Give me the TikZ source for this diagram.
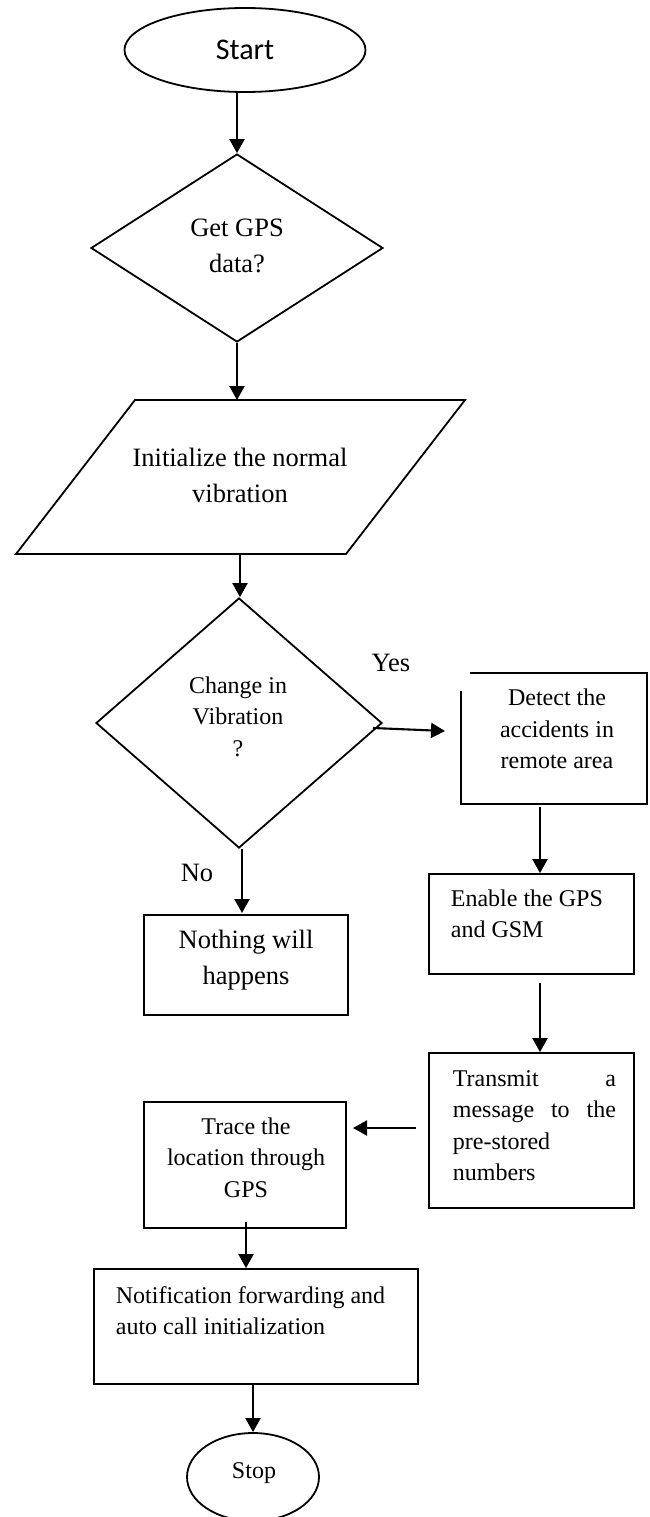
\documentclass[tikz,border=0pt]{standalone}
\usepackage{fontspec}
\setmainfont{Liberation Serif}
\newfontfamily\startfont{Carlito}
\usetikzlibrary{shapes.geometric,arrows.meta}
\begin{document}
\begin{tikzpicture}[x=1pt,y=-1pt,
  line width=1.8pt,
  arr/.style={line width=2.1pt,-{Triangle[length=14pt,width=15pt]}},
  boxshape/.style={draw,rectangle,inner sep=0pt},
  dia/.style={draw,diamond,inner sep=0pt},
  oval/.style={draw,ellipse,inner sep=0pt},
  txt/.style={inner sep=0pt,font=\fontsize{24}{31.5}\selectfont,align=center},
  bigtxt/.style={inner sep=0pt,font=\fontsize{26.5}{36}\selectfont,align=center},
]
\useasboundingbox (0,0) rectangle (649,1517);

% shapes
\node[oval,minimum width=241pt,minimum height=84pt] (start) at (245,50) {};
\node[dia,minimum width=292pt,minimum height=188pt] (gps) at (237,248) {};
\draw (135,400) -- (465,400) -- (346,554) -- (16,554) -- cycle;
\coordinate (initT) at (237,400);
\coordinate (initB) at (240,554);
\node[dia,minimum width=286pt,minimum height=250pt] (chg) at (239,723) {};
\node[inner sep=0pt,minimum width=186pt,minimum height=131pt] (detect) at (554,738.5) {};
\draw (470,673) -- (647,673) -- (647,804) -- (461,804) -- (461,691);
\node[boxshape,minimum width=204pt,minimum height=100pt] (nothing) at (246,965) {};
\node[boxshape,minimum width=205pt,minimum height=100pt] (enable) at (531.5,924) {};
\node[boxshape,minimum width=205pt,minimum height=155pt] (transmit) at (531.5,1130.5) {};
\node[boxshape,minimum width=202pt,minimum height=126pt] (trace) at (245,1165) {};
\node[boxshape,minimum width=324pt,minimum height=115pt] (notif) at (256,1326.5) {};
\node[oval,minimum width=132pt,minimum height=88pt] (stop) at (253,1477) {};

% texts
\node[inner sep=0pt,font=\startfont\fontsize{30}{36}\selectfont] (tstart) at (245,50) {Start};
\node[bigtxt] (tgps) at (237,246) {Get GPS\\data?};
\node[bigtxt] (tinit) at (240,475) {Initialize the normal\\vibration};
\node[txt] (tchg) at (238,716.5) {Change in\\Vibration\\?};
\node[bigtxt] (tyes) at (391,663) {Yes};
\node[txt] (tdetect) at (557,729) {Detect the\\accidents in\\remote area};
\node[bigtxt] (tno) at (197,873) {No};
\node[bigtxt] (tnothing) at (246,960) {Nothing will\\happens};
\node[txt,align=left,anchor=west] (tenable) at (450,914) {Enable the GPS\\and GSM};
\node[txt,align=left,text width=163pt,anchor=west] (ttransmit) at (452,1125.5)
  {Transmit\hfill a\\message\hfill to\hfill the\\pre-stored\\numbers};
\node[txt] (ttrace) at (246,1157.5) {Trace the\\location through\\GPS};
\node[txt,align=left,anchor=west] (tnotif) at (115,1310.5) {Notification forwarding and\\auto call initialization};
\node[txt] (tstop) at (254,1473) {Stop};

% connectors
\coordinate (yesS) at (373,728);
\coordinate (yesE) at (445,731);
\coordinate (detB) at (540,807);
\coordinate (enaB) at (540,983);
\coordinate (traS) at (416,1128);
\coordinate (traE) at (353,1128);
\coordinate (trcB) at (246,1222);

\draw[arr] (start.south -| gps.north) -- (gps.north);
\draw[arr] (gps.south) -- (initT);
\draw[arr] (initB) -- (initB |- chg.north);
\draw[arr] (yesS) -- (yesE);
\draw[arr] (chg.south -| 242,0) -- (242,913);
\draw[arr] (detB) -- (detB |- enable.north);
\draw[arr] (enaB) -- (enaB |- transmit.north);
\draw[arr] (traS) -- (traE);
\draw[arr] (trcB) -- (trcB |- notif.north);
\draw[arr] (notif.south -| stop.north) -- (stop.north);
\end{tikzpicture}
\end{document}
